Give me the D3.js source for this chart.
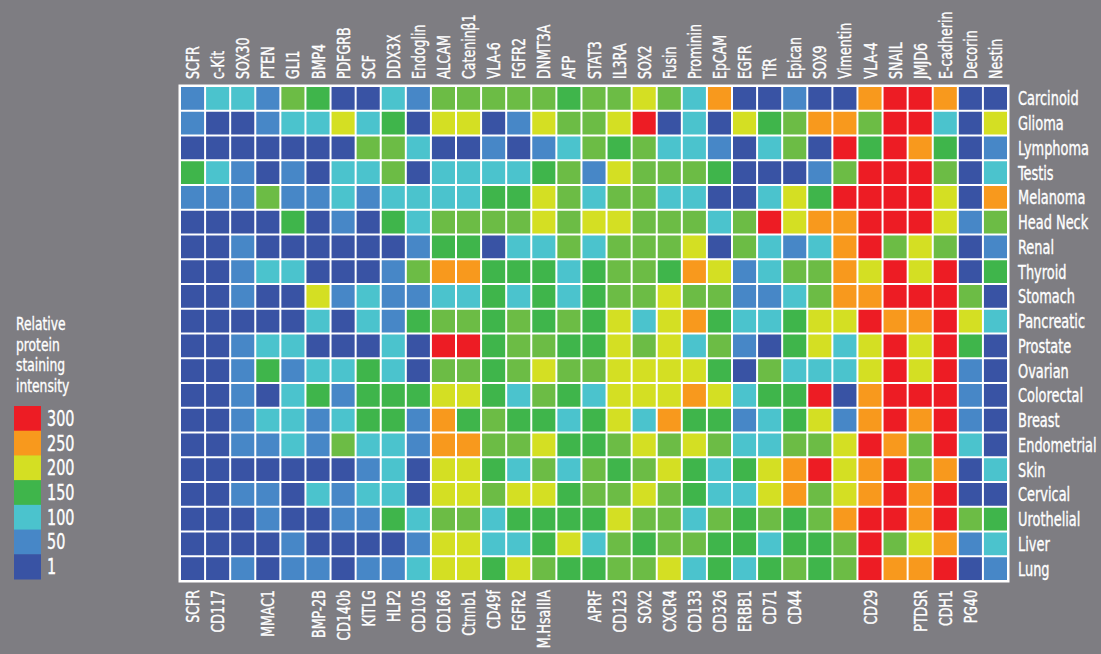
<!DOCTYPE html>
<html><head><meta charset="utf-8">
<script src="https://cdn.jsdelivr.net/npm/d3@7"></script>
<style>
html,body{margin:0;padding:0;background:#7e7d82;}
svg text{font-family:"DejaVu Sans Condensed","Liberation Sans Narrow",sans-serif;fill:#fff;stroke:#fff;stroke-width:0.35px;}
</style></head>
<body>
<svg id="chart" width="1101" height="654"></svg>
<script>
const rowLabels = ["Carcinoid","Glioma","Lymphoma","Testis","Melanoma","Head Neck","Renal","Thyroid","Stomach","Pancreatic","Prostate","Ovarian","Colorectal","Breast","Endometrial","Skin","Cervical","Urothelial","Liver","Lung"];
const topLabels = ["SCFR","c-Kit","SOX30","PTEN","GLI1","BMP4","PDFGRB","SCF","DDX3X","Endoglin","ALCAM","Cateninβ1","VLA-6","FGFR2","DNMT3A","AFP","STAT3","IL3RA","SOX2","Fusin","Prominin","EpCAM","EGFR","TfR","Epican","SOX9","Vimentin","VLA-4","SNAIL","JMJD6","E-cadherin","Decorin","Nestin"];
const bottomLabels = ["SCFR","CD117","","MMAC1","","BMP-2B","CD140b","KITLG","HLP2","CD105","CD166","Ctnnb1","CD49f","FGFR2","M.HsaIIIA","","APRF","CD123","SOX2","CXCR4","CD133","CD326","ERBB1","CD71","CD44","","","CD29","","PTDSR","CDH1","PG40",""];
const legendValues = [300,250,200,150,100,50,1];
const legendTitle = ["Relative","protein","staining","intensity"];
const levels = [1,50,100,150,175,200,250,300];
const levelColors = ["#3953a4","#4787c7","#4bc3cd","#3fb54b","#6cbc45","#d4df23","#f8991d","#ed1c24"];

const values = [
[50,100,100,50,175,150,1,1,100,50,175, 175,175,175,175,150,175,175,200,175,100,250, 1,1,50,1,1,250,300,300,250,1,1],
[50,1,1,50,100,100,200,100,150,1,200, 200,1,50,200,175,175,200,300,1,100,1, 200,150,175,250,250,175,300,300,100,1,200],
[1,1,1,1,1,1,1,175,175,100,1, 1,50,1,50,100,175,150,175,100,100,50, 1,100,175,1,300,150,300,250,150,1,50],
[150,100,50,1,50,1,100,100,175,1,100, 100,100,100,150,175,50,200,175,175,175,150, 1,1,1,50,175,300,300,300,175,1,100],
[50,50,50,175,50,50,100,50,100,100,100, 100,150,150,200,175,100,175,175,100,100,1, 1,100,200,150,300,300,300,300,200,1,250],
[1,1,1,1,150,1,50,1,150,100,175, 175,175,175,200,175,200,200,175,175,175,100, 175,300,200,250,250,300,300,300,200,50,175],
[1,1,50,1,1,1,1,1,1,50,150, 150,1,100,100,175,100,175,175,175,200,1, 175,100,50,100,250,300,175,200,175,1,50],
[1,1,50,100,100,1,1,1,50,175,250, 250,150,150,150,100,150,175,175,150,250,200, 50,100,175,175,250,200,300,200,300,1,150],
[1,1,50,1,1,200,50,100,50,50,100, 100,150,100,150,100,150,175,175,200,175,175, 50,50,100,175,250,250,300,300,300,175,1],
[1,1,1,1,1,100,1,100,50,150,175, 175,150,175,150,175,150,200,100,200,250,150, 100,100,150,200,200,300,250,250,300,200,100],
[1,1,50,100,100,1,1,1,100,1,300, 300,150,175,175,150,150,200,175,200,100,175, 50,1,150,200,100,200,300,200,300,150,1],
[1,1,50,150,50,100,100,150,100,1,175, 175,150,175,200,175,175,200,200,200,200,150, 1,175,100,100,100,200,300,200,300,50,1],
[1,1,50,1,100,150,50,150,150,150,200, 200,150,100,175,150,100,200,200,200,250,200, 100,150,150,300,1,250,300,300,300,50,1],
[1,1,50,100,100,50,100,150,150,50,250, 150,175,150,150,100,150,200,100,250,150,150, 50,100,150,200,50,250,300,250,300,50,1],
[1,1,50,50,100,50,175,100,100,50,250, 250,175,175,200,150,150,175,200,175,200,175, 100,100,175,175,200,300,250,175,300,100,1],
[1,1,1,1,1,1,1,50,100,1,200, 200,150,100,175,100,175,150,175,200,150,100, 150,200,250,300,200,250,300,175,250,1,100],
[1,1,50,50,1,100,50,100,100,1,200, 200,175,200,200,150,175,175,200,175,150,100, 100,200,250,175,200,250,300,250,300,1,1],
[1,1,1,50,1,1,50,50,150,100,175, 175,100,150,150,150,150,200,175,175,100,175, 150,175,150,175,250,300,300,250,300,175,150],
[1,1,1,1,50,1,1,1,1,50,200, 200,100,100,150,200,100,175,150,175,175,150, 150,100,150,150,175,300,175,200,250,50,100],
[1,1,50,1,50,50,1,50,50,100,200, 200,150,200,175,150,150,175,175,200,100,150, 100,150,175,150,175,300,250,250,300,1,50]
];

const svg = d3.select("#chart");
const color = d3.scaleOrdinal().domain(levels).range(levelColors);
const gx0 = 180, gx1 = 1008, gy0 = 86, gy1 = 581;
const x = d3.scaleBand().domain(d3.range(topLabels.length)).range([gx0, gx1]);
const y = d3.scaleBand().domain(d3.range(rowLabels.length)).range([gy0, gy1]);

svg.append("rect").attr("x", gx0 - 1.5).attr("y", gy0 - 1.5)
  .attr("width", gx1 - gx0 + 3).attr("height", gy1 - gy0 + 3).attr("fill", "#fff");

const cells = [];
values.forEach((row, r) => row.forEach((v, c) => cells.push({r, c, v})));
svg.append("g").selectAll("rect").data(cells).join("rect")
  .attr("x", d => x(d.c) + 1).attr("y", d => y(d.r) + 1)
  .attr("width", x.bandwidth() - 2).attr("height", y.bandwidth() - 2)
  .attr("fill", d => color(d.v));

// top labels
svg.append("g").selectAll("text").data(topLabels).join("text")
  .attr("transform", (d, i) => `translate(${x(i) + x.bandwidth()/2 + 6.5},79) rotate(-90) scale(0.8,1)`)
  .attr("text-anchor", "start").attr("font-size", 17.5).text(d => d);
// bottom labels
svg.append("g").selectAll("text").data(bottomLabels).join("text")
  .attr("transform", (d, i) => `translate(${x(i) + x.bandwidth()/2 + 6.5},590) rotate(-90) scale(0.8,1)`)
  .attr("text-anchor", "end").attr("font-size", 17.5).text(d => d);
// row labels
svg.append("g").selectAll("text").data(rowLabels).join("text")
  .attr("transform", (d, i) => `translate(1018,${y(i) + y.bandwidth()/2 + 7}) scale(0.72,1)`)
  .attr("font-size", 20).text(d => d);

// legend
svg.append("g").selectAll("text").data(legendTitle).join("text")
  .attr("transform", (d, i) => `translate(16,${330 + i * 20.5}) scale(0.76,1)`)
  .attr("font-size", 18).text(d => d);
const ly = d3.scaleBand().domain(d3.range(legendValues.length)).range([406, 579]);
svg.append("g").selectAll("rect").data(legendValues).join("rect")
  .attr("x", 14).attr("y", (d, i) => ly(i)).attr("width", 27).attr("height", ly.bandwidth() + 0.5)
  .attr("fill", d => color(d));
svg.append("g").selectAll("text").data(legendValues).join("text")
  .attr("transform", (d, i) => `translate(47,${ly(i) + ly.bandwidth()/2 + 7.5}) scale(0.76,1)`)
  .attr("font-size", 21).text(d => d);
</script>
</body></html>
